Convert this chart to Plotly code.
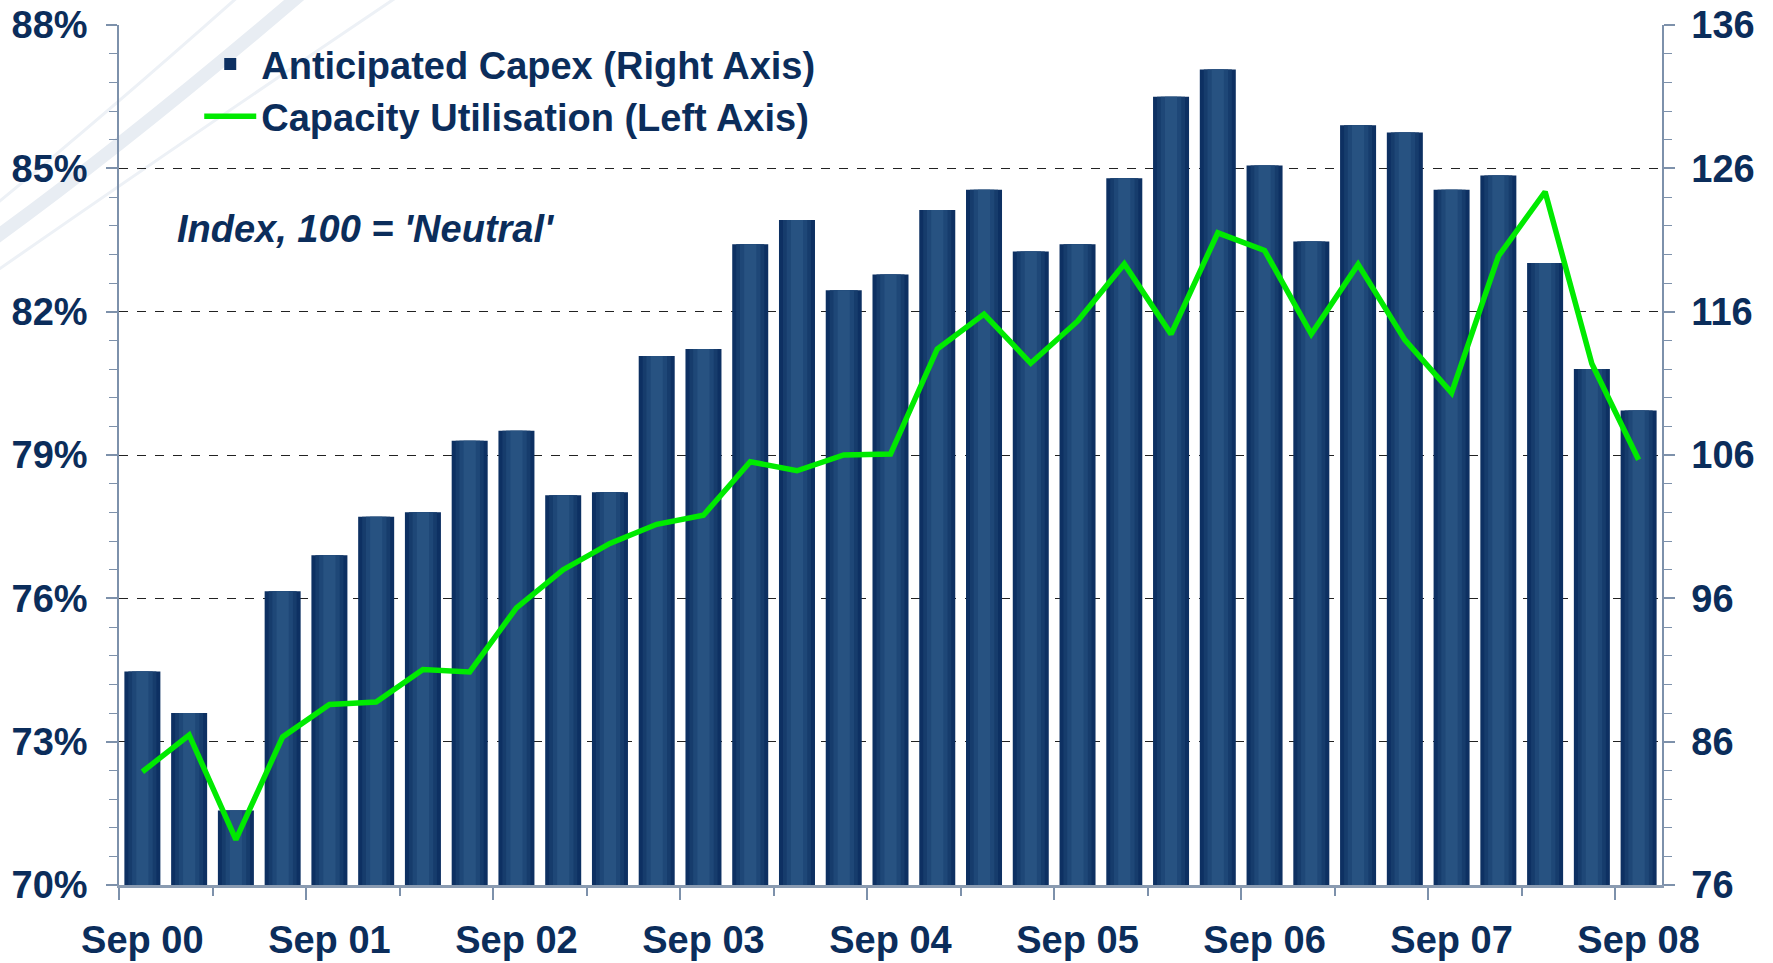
import plotly.graph_objects as go

# ---------------- data ----------------
quarters = ["Sep 00", "Dec 00", "Mar 01", "Jun 01", "Sep 01", "Dec 01", "Mar 02", "Jun 02",
            "Sep 02", "Dec 02", "Mar 03", "Jun 03", "Sep 03", "Dec 03", "Mar 04", "Jun 04",
            "Sep 04", "Dec 04", "Mar 05", "Jun 05", "Sep 05", "Dec 05", "Mar 06", "Jun 06",
            "Sep 06", "Dec 06", "Mar 07", "Jun 07", "Sep 07", "Dec 07", "Mar 08", "Jun 08",
            "Sep 08"]

capex = [90.9, 88.0, 81.2, 96.5, 99.0, 101.7, 102.0, 107.0,
         107.7, 103.2, 103.4, 112.9, 113.4, 120.7, 122.4, 117.5,
         118.6, 123.1, 124.5, 120.2, 120.7, 125.3, 131.0, 132.9,
         126.2, 120.9, 129.0, 128.5, 124.5, 125.5, 119.4, 112.0,
         109.1]

capacity = [72.37, 73.14, 70.95, 73.10, 73.78, 73.83, 74.51, 74.46,
            75.80, 76.60, 77.15, 77.55, 77.74, 78.86, 78.67, 79.00,
            79.02, 81.22, 81.95, 80.92, 81.80, 83.00, 81.53, 83.65,
            83.28, 81.53, 82.99, 81.41, 80.30, 83.16, 84.51, 80.91,
            78.90]

left_ticks = [70, 73, 76, 79, 82, 85, 88]
right_ticks = [76, 86, 96, 106, 116, 126, 136]

series_names = ["Anticipated Capex (Right Axis)", "Capacity Utilisation (Left Axis)"]
note_text = "Index, 100 = 'Neutral'"

# ---------------- layout constants ----------------
W, H = 1773, 963
ML, MR, MT, MB = 119, 111, 25, 78
NAVY = "#0b2d5b"
FONT = "Liberation Sans, Arial, sans-serif"
FS = 38

xpos = list(range(len(quarters)))
label_idx = list(range(0, len(quarters), 4))


def px2paper(px, py):
    pw = W - ML - MR
    ph = H - MT - MB
    return (px - ML) / pw, 1 - (py - MT) / ph


fig = go.Figure()

# bars (layered to imitate a horizontal gradient)
bar_layers = [(0.77, "#0d3062", True), (0.60, "#163c6c", False),
              (0.44, "#1e4777", False), (0.26, "#275281", False)]
for width, color, show in bar_layers:
    fig.add_trace(go.Bar(
        x=xpos, y=capex, width=width, name=series_names[0],
        marker=dict(color=color, line=dict(color="#0d3062", width=0)),
        showlegend=show, legendrank=1, hovertext=quarters,
        xaxis="x", yaxis="y",
    ))

fig.add_trace(go.Scatter(
    x=xpos, y=capacity, mode="lines", name=series_names[1],
    line=dict(color="#00ea00", width=5.5), legendrank=2, hovertext=quarters,
    xaxis="x2", yaxis="y2",
))


# decorative swooshes in the top-left corner
def qpath(p0, c, p1):
    a = px2paper(*p0); b = px2paper(*c); d = px2paper(*p1)
    return f"M {a[0]},{a[1]} Q {b[0]},{b[1]} {d[0]},{d[1]}"


shapes = [
    dict(type="path", xref="paper", yref="paper", layer="below",
         path=qpath((-5, 238), (130, 140), (300, -5)),
         line=dict(color="#e8edf3", width=13)),
    dict(type="path", xref="paper", yref="paper", layer="below",
         path=qpath((-5, 205), (105, 115), (240, -5)),
         line=dict(color="#edf1f6", width=3)),
    dict(type="path", xref="paper", yref="paper", layer="below",
         path=qpath((-5, 272), (170, 150), (400, -5)),
         line=dict(color="#edf1f6", width=3)),
]

ax_line = "#7d91ab"
tickfont = dict(family=FONT, size=FS, color=NAVY, weight="bold")

nx, ny = px2paper(175, 229)
xr = [-0.5, len(quarters) - 0.5]

fig.update_layout(
    width=W, height=H,
    margin=dict(l=ML, r=MR, t=MT, b=MB, autoexpand=False),
    paper_bgcolor="white", plot_bgcolor="rgba(0,0,0,0)",
    barmode="overlay",
    showlegend=True,
    legend=dict(x=0.052, y=0.991, xanchor="left", yanchor="top",
                bgcolor="rgba(0,0,0,0)", itemwidth=52,
                font=dict(family=FONT, size=FS, color=NAVY, weight="bold"),
                traceorder="normal", tracegroupgap=0),
    shapes=shapes,
    annotations=[dict(x=nx, y=ny, xref="paper", yref="paper", xanchor="left", yanchor="middle",
                      text=note_text, showarrow=False,
                      font=dict(family=FONT, size=38, color=NAVY, weight="bold", style="italic"))],
    xaxis=dict(
        range=xr, showgrid=False, zeroline=False,
        showline=True, linecolor="#8a9bb1", linewidth=3,
        tickmode="array", tickvals=[i - 0.5 for i in label_idx[:-1]] + [len(quarters) - 1.5],
        ticktext=[""] * len(label_idx), ticks="outside", ticklen=12, tickwidth=1.5, tickcolor=ax_line,
        minor=dict(tickmode="array", tickvals=[i + 1.5 for i in label_idx[:-1]],
                   ticks="outside", ticklen=8, tickwidth=1.5, tickcolor=ax_line),
    ),
    xaxis2=dict(
        overlaying="x", anchor="y2", side="bottom",
        range=xr, showgrid=False, zeroline=False, showline=False,
        tickmode="array", tickvals=label_idx, ticktext=[quarters[i] for i in label_idx],
        ticks="", tickfont=tickfont, ticklabelstandoff=29,
    ),
    yaxis=dict(
        side="right", range=[right_ticks[0], right_ticks[-1]],
        tickmode="array", tickvals=right_ticks, ticktext=[str(v) for v in right_ticks],
        showgrid=True, gridcolor="#222222", griddash="dash", gridwidth=1,
        zeroline=False, showline=True, linecolor=ax_line, linewidth=1.5,
        ticks="outside", ticklen=11, tickwidth=1.5, tickcolor=ax_line,
        minor=dict(dtick=2, tick0=76, ticks="outside", ticklen=8, tickwidth=1.2,
                   tickcolor=ax_line, showgrid=False),
        tickfont=tickfont, ticklabelstandoff=9,
    ),
    yaxis2=dict(
        overlaying="y", anchor="x2", side="left", range=[left_ticks[0], left_ticks[-1]],
        tickmode="array", tickvals=left_ticks, ticktext=[f"{v}%" for v in left_ticks],
        showgrid=False, zeroline=False, showline=True, linecolor=ax_line, linewidth=1.5,
        ticks="outside", ticklen=11, tickwidth=1.5, tickcolor=ax_line,
        minor=dict(dtick=0.6, tick0=70, ticks="outside", ticklen=8, tickwidth=1.2,
                   tickcolor=ax_line, showgrid=False),
        tickfont=tickfont, ticklabelstandoff=11,
    ),
)

fig.write_html(
    "out.html",
    config={"displayModeBar": False},
    post_script="document.body.style.margin='0';document.body.style.padding='0';"
                "document.body.style.overflow='hidden';",
)
